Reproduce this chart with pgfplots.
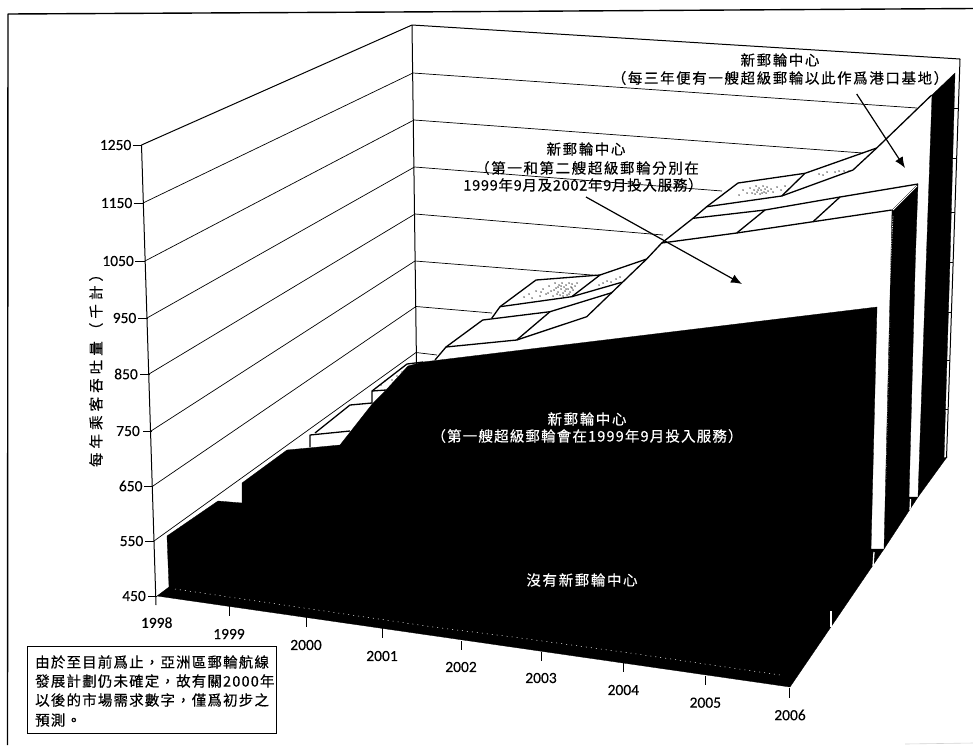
\documentclass[border=0pt]{standalone}
\usepackage{fontspec}
\usepackage{pgfplots}
\usetikzlibrary{arrows.meta}
\pgfplotsset{compat=1.18}
\setmainfont{Carlito}[FakeBold=0.15]
\newfontfamily\cjk[LetterSpace=8,FakeBold=0.35]{Noto Sans CJK TC}
\newfontfamily\cjknarrow[LetterSpace=5,FakeBold=0.35]{Noto Sans CJK TC}
\newfontfamily\cjkwide[LetterSpace=11,FakeBold=0.35]{Noto Sans CJK TC}
\newfontfamily\cjktitle[LetterSpace=28,FakeBold=0.35]{Noto Sans CJK TC}
\newcommand{\lab}[1]{{\fontsize{15.5}{17}\selectfont #1}}
\newcommand{\ann}[1]{{\fontsize{14.5}{16}\selectfont\cjk #1}}
\newcommand{\annn}[1]{{\fontsize{14.5}{16}\selectfont\cjknarrow #1}}
\newcommand{\annw}[1]{{\fontsize{14.5}{16}\selectfont\cjkwide #1}}
\newcommand{\annt}[1]{{\fontsize{14.5}{16}\selectfont\cjktitle #1}}
\pgfplotsset{
  grid line/.style={black,line width=0.7pt,no marks},
  edge line/.style={black,line width=1.3pt,no marks,line join=round},
  solid area/.style={fill=black,draw=black,line width=0.3pt,no marks},
  grain/.style={only marks,mark=*,mark size=0.45pt,black,mark options={draw=none,fill=black}},
}
\begin{document}
\begin{tikzpicture}[x=1pt,y=1pt]
\path[use as bounding box] (0,0) rectangle (973,745);
\begin{axis}[
  at={(0,0)},anchor=south west,
  width=973pt,height=745pt,scale only axis,
  xmin=0,xmax=973,ymin=0,ymax=745,y dir=reverse,
  hide axis,clip=false,
]
% page frame
\addplot[edge line,line width=1.4pt] coordinates {(973,8.5)(490,11.5)(8,14)(7.5,745)};
\addplot[gray!35,line width=0.6pt,no marks] coordinates {(905,744)(973,743)};

% left wall: axis edge, value levels and their ticks
\addplot[edge line,line width=1pt] coordinates {(141.5,145)(156,605)};
\addplot[edge line,line width=1pt] coordinates {(141.5,145)(412,25)(960,59)(946.5,458)};
\addplot[grid line,line width=1pt] coordinates {(412,25)(416.5,365)};
\addplot[grid line] coordinates {(143,203)(413,73)};
\addplot[grid line] coordinates {(145,261)(414,120)};
\addplot[grid line] coordinates {(147,318)(414.5,167)};
\addplot[grid line] coordinates {(149,374)(415,214)};
\addplot[grid line] coordinates {(151,431)(415,261)};
\addplot[grid line] coordinates {(153,486)(416,306.5)};
\addplot[grid line] coordinates {(154,541)(416,352.5)};
% back wall: value levels
\addplot[grid line] coordinates {(413,73)(917,108)};
\addplot[grid line] coordinates {(414,120)(863,153)};
\addplot[grid line] coordinates {(414.5,167)(722,191)};
\addplot[grid line] coordinates {(415,214)(663,235)};
\addplot[grid line] coordinates {(415,261)(598,275.5)};
\addplot[grid line] coordinates {(416,306.5)(492,313)};
\addplot[grid line] coordinates {(416,352.5)(437,355)};
% value levels continuing along the right wall
\addplot[grid line] coordinates {(948,108)(958,108)};
\addplot[grid line] coordinates {(947,158)(956,158)};
\addplot[grid line] coordinates {(947,212)(954.5,212)};
\addplot[grid line] coordinates {(946,262)(952.5,262)};
\addplot[grid line] coordinates {(946,312)(951,312)};
\addplot[grid line] coordinates {(945,360)(949.5,360)};
\addplot[grid line] coordinates {(945,409)(948,409)};
% ticks on the value axis
\addplot[grid line,line width=0.9pt] coordinates {(132.5,145)(142,145)};
\addplot[grid line,line width=0.9pt] coordinates {(133.5,203)(143.5,203)};
\addplot[grid line,line width=0.9pt] coordinates {(135,261)(145,261)};
\addplot[grid line,line width=0.9pt] coordinates {(138,318)(148,318)};
\addplot[grid line,line width=0.9pt] coordinates {(140,374)(149.5,374)};
\addplot[grid line,line width=0.9pt] coordinates {(143,431)(152,431)};
\addplot[grid line,line width=0.9pt] coordinates {(144,486)(153,486)};
\addplot[grid line,line width=0.9pt] coordinates {(145,541)(154,541)};
\addplot[grid line,line width=0.9pt] coordinates {(148,596)(157,596)};
% ticks on the year axis
\addplot[grid line,line width=0.9pt] coordinates {(229,605)(229,616)};
\addplot[grid line,line width=0.9pt] coordinates {(306,617)(306,627)};
\addplot[grid line,line width=0.9pt] coordinates {(382.7,628)(382.7,638)};
\addplot[grid line,line width=0.9pt] coordinates {(461.7,641)(461.7,650)};
\addplot[grid line,line width=0.9pt] coordinates {(541,652)(541,661)};
\addplot[grid line,line width=0.9pt] coordinates {(623.3,663)(623.3,672)};
\addplot[grid line,line width=0.9pt] coordinates {(705.3,676)(705.3,685)};
\addplot[grid line,line width=0.9pt] coordinates {(789.3,688)(789.3,698)};

% rear series: upper surface
\addplot[edge line] coordinates {(372,403)(372,391)(386,390)};
\addplot[edge line] coordinates {(372,391)(407,364)(423,362)};
\addplot[edge line] coordinates {(435,360)(446,347)(516.7,340)(550,311.7)};
\addplot[edge line] coordinates {(446,347)(482.7,320)(550,311.7)(611.7,292.7)};
\addplot[edge line] coordinates {(516.7,340)(586.7,316.7)(646.7,259)(661.7,243)(693,218.3)(706.7,206.7)(738,183)};
\addplot[edge line] coordinates {(491.7,318.3)(500,306.7)(536,280)(600,275)(646.7,259)};
\addplot[edge line] coordinates {(500,306.7)(571.7,296.7)(600,275)};
\addplot[edge line] coordinates {(571.7,296.7)(621.7,282.3)};
\addplot[edge line] coordinates {(706.7,206.7)(781.7,196)(853,170)(876.7,148)(931.7,95)};
\addplot[edge line] coordinates {(738,183)(805,173.3)(876.7,148)};
\addplot[edge line] coordinates {(781.7,196)(805,173.3)};
% middle series: upper surface
\addplot[edge line] coordinates {(310,447)(310,435)(350,431)};
\addplot[edge line] coordinates {(315,433)(350,405)(372,403)};
\addplot[edge line] coordinates {(661.7,243)(736.7,233)(813,221.7)(891.7,210)};
\addplot[edge line] coordinates {(693,218.3)(765,210)(840,197)(918,184)};
\addplot[edge line] coordinates {(736.7,233)(765,210)};
\addplot[edge line] coordinates {(813,221.7)(840,197)};

% grain on the shaded facets
\addplot[grain] coordinates {
 (524,297)(529,294)(532,298)(536,291)(540,296)(543,289)(546,294)(549,286)(551,291)(553,296)
 (555,283)(556,288)(558,292)(559,285)(560,295)(561,289)(562,283)(563,293)(564,287)(565,291)
 (566,285)(567,295)(568,289)(569,283)(570,292)(571,287)(572,284)(573,290)(575,286)(577,283)
 (557,294)(554,290)(561,286)(566,289)(563,296)(569,294)(558,287)(572,288)(548,293)(541,292)
 (599,285)(603,283)(607,281)(611,282)(616,279)(620,277)
 (739,195)(743,190)(747,193)(750,188)(752,193)(754,190)(756,186)(757,192)(759,188)(760,194)
 (761,190)(763,186)(764,192)(765,189)(767,187)(768,191)(771,189)(773,192)(777,187)(781,190)
 (785,186)(758,190)(762,193)(755,194)(766,193)
 (819,174)(823,175)(827,172)(835,172)(839,171)(844,171)(849,171)
 (381,385)(385,381)(392,380)(397,376)(402,372)(405,374)
};

% right-hand side faces of the series
\addplot[solid area] coordinates {(932,95)(955,73)(950,260)(944,458)(947,457)(918,497)} --cycle;
\addplot[solid area] coordinates {(892,210)(918,184)(915.3,260)(909,497)(918,497)(884,549)} --cycle;
% front series and chart floor
\addplot[solid area] coordinates {
 (157,596)(169,587)(167,536)(218,501)(242,503)(242,483)(287,450)(340,445)
 (373,403)(386,390)(408,366)(423,362)(877,307)(871,549)(884,549)(790,687)
} --cycle;
% highlights left on the dark faces
\addplot[white,line width=0.7pt,densely dotted,no marks] coordinates {(893,216)(889,300)};
\addplot[white,line width=0.4pt,dotted,no marks] coordinates {(890,320)(886,480)};
\addplot[white,line width=0.5pt,dash pattern=on 1pt off 4pt,no marks] coordinates {(175,589)(433,627)(513,637)(630,653)(780,675)};
\addplot[white,line width=1.3pt,no marks] coordinates {(874,552)(873,566)};
\addplot[white,line width=1.3pt,no marks] coordinates {(831,611)(831,627)};
\addplot[white,line width=1.3pt,no marks] coordinates {(910.5,499)(910,510)};
\addplot[white,line width=0.8pt,no marks] coordinates {(893,210)(917,186)};

% callout arrows
\addplot[black,line width=1.2pt,no marks,-{Latex[length=11pt,width=9pt]}] coordinates {(586,197)(742,284)};
\addplot[black,line width=1.2pt,no marks,-{Latex[length=11pt,width=9pt]}] coordinates {(856.7,94)(905,168)};

% value axis labels
\node[anchor=east,inner sep=0pt] at (axis cs:131.5,145) {\lab{1250}};
\node[anchor=east,inner sep=0pt] at (axis cs:132.5,203) {\lab{1150}};
\node[anchor=east,inner sep=0pt] at (axis cs:134,261) {\lab{1050}};
\node[anchor=east,inner sep=0pt] at (axis cs:136.5,318) {\lab{950}};
\node[anchor=east,inner sep=0pt] at (axis cs:138,374) {\lab{850}};
\node[anchor=east,inner sep=0pt] at (axis cs:140,431) {\lab{750}};
\node[anchor=east,inner sep=0pt] at (axis cs:142.7,486) {\lab{650}};
\node[anchor=east,inner sep=0pt] at (axis cs:143.5,541) {\lab{550}};
\node[anchor=east,inner sep=0pt] at (axis cs:146,596) {\lab{450}};
% year labels
\node[inner sep=0pt] at (axis cs:156.7,622.7) {\lab{1998}};
\node[inner sep=0pt] at (axis cs:229,634) {\lab{1999}};
\node[inner sep=0pt] at (axis cs:306,645) {\lab{2000}};
\node[inner sep=0pt] at (axis cs:382,656) {\lab{2001}};
\node[inner sep=0pt] at (axis cs:461,667) {\lab{2002}};
\node[inner sep=0pt] at (axis cs:541,678) {\lab{2003}};
\node[inner sep=0pt] at (axis cs:623.3,690) {\lab{2004}};
\node[inner sep=0pt] at (axis cs:705.3,702.7) {\lab{2005}};
\node[inner sep=0pt] at (axis cs:790,715) {\lab{2006}};
% value axis title
\node[rotate=90,inner sep=0pt] at (axis cs:96,367) {\annt{每年乘客吞吐量（千計）}};

% series annotations
\node[inner sep=0pt] at (axis cs:780,60) {\annw{新郵輪中心}};
\node[inner sep=0pt] at (axis cs:780,78) {\annw{（每三年便有一艘超級郵輪以此作爲港口基地）}};
\node[inner sep=0pt] at (axis cs:586,149) {\annw{新郵輪中心}};
\node[inner sep=0pt] at (axis cs:587,168) {\annw{（第一和第二艘超級郵輪分別在}};
\node[inner sep=0pt] at (axis cs:583,185) {\annn{1999年9月及2002年9月投入服務）}};
\node[inner sep=0pt,text=white] at (axis cs:587,419) {\annw{新郵輪中心}};
\node[inner sep=0pt,text=white] at (axis cs:587,436) {\ann{（第一艘超級郵輪會在1999年9月投入服務）}};
\node[inner sep=0pt,text=white] at (axis cs:582,580) {\annw{沒有新郵輪中心}};

% note box
\addplot[black,line width=0.9pt,no marks,fill=white] coordinates {(27.3,646)(276.7,646)(276.7,733)(27.3,733)} --cycle;
\node[anchor=west,inner sep=0pt] at (axis cs:35,662) {\ann{由於至目前爲止，亞洲區郵輪航線}};
\node[anchor=west,inner sep=0pt] at (axis cs:35,681) {\ann{發展計劃仍未確定，故有關2000年}};
\node[anchor=west,inner sep=0pt] at (axis cs:35,700) {\ann{以後的市場需求數字，僅爲初步之}};
\node[anchor=west,inner sep=0pt] at (axis cs:35,720) {\ann{預測。}};
\end{axis}
\end{tikzpicture}
\end{document}
